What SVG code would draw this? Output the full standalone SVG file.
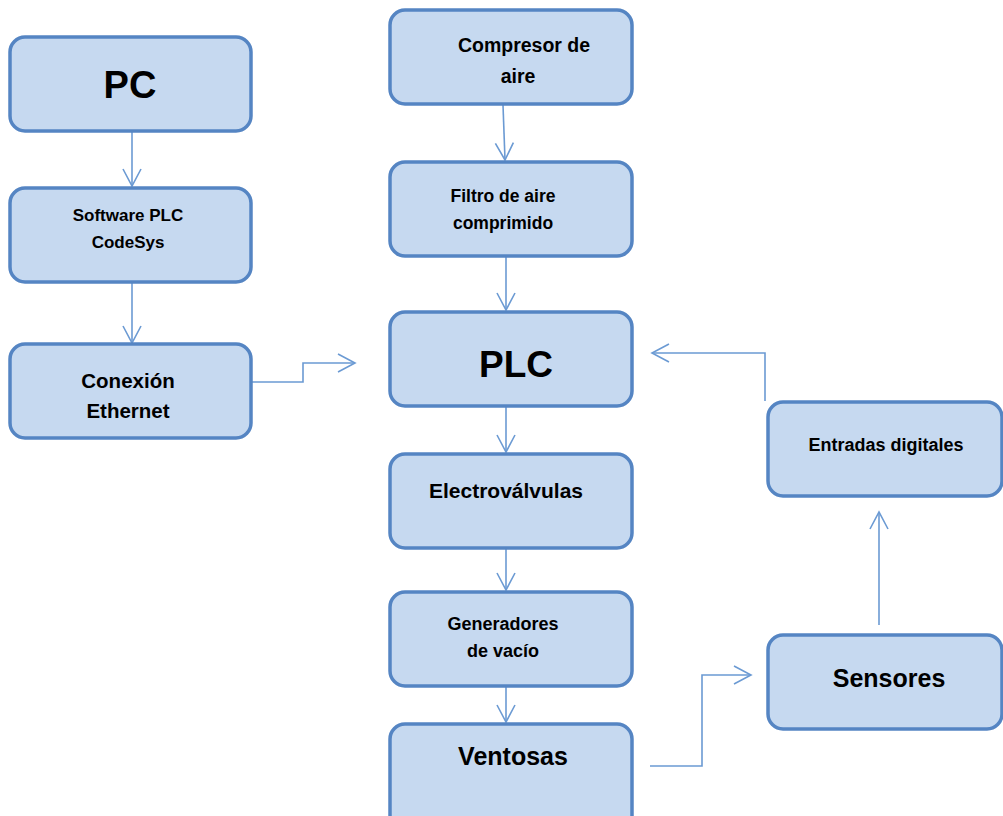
<svg xmlns="http://www.w3.org/2000/svg" width="1003" height="816" viewBox="0 0 1003 816">
<defs>
<style>
.box{fill:#c6d9f0;stroke:#5585c3;stroke-width:3.5}
.t{font-family:"Liberation Sans",Arial,sans-serif;font-weight:bold;fill:#000;text-anchor:middle}
.c{fill:none;stroke:#6b9ad3;stroke-width:1.6}
</style>
<marker id="ah" markerUnits="userSpaceOnUse" viewBox="-19 -11 21 22" refX="0" refY="0" markerWidth="21" markerHeight="22" orient="auto" overflow="visible">
<path d="M-17,-9 L0,0 L-17,9" fill="none" stroke="#6b9ad3" stroke-width="1.6"/>
</marker>
</defs>
<rect width="1003" height="816" fill="#fff"/>
<g id="connectors">
<path class="c" d="M132,132 V186" marker-end="url(#ah)"/>
<path class="c" d="M132,283 V343" marker-end="url(#ah)"/>
<path class="c" d="M252,382 H303 V363 H355" marker-end="url(#ah)"/>
<path class="c" d="M503,105 L505,160" marker-end="url(#ah)"/>
<path class="c" d="M506,257 V310" marker-end="url(#ah)"/>
<path class="c" d="M506,406 V452" marker-end="url(#ah)"/>
<path class="c" d="M506,548 V590" marker-end="url(#ah)"/>
<path class="c" d="M506,686 V722" marker-end="url(#ah)"/>
<path class="c" d="M650,766 H702 V675 H751" marker-end="url(#ah)"/>
<path class="c" d="M879,625 V512" marker-end="url(#ah)"/>
<path class="c" d="M765,401 V353 H652" marker-end="url(#ah)"/>
</g>
<g id="pc"><rect class="box" x="10" y="37" width="241" height="94" rx="15"/><text class="t" x="130" y="98" font-size="38">PC</text></g>
<g id="software"><rect class="box" x="10" y="188" width="241" height="94" rx="15"/><text class="t" x="128" y="221" font-size="17">Software PLC</text><text class="t" x="128" y="248" font-size="17">CodeSys</text></g>
<g id="conexion"><rect class="box" x="10" y="344" width="241" height="94" rx="15"/><text class="t" x="128" y="388" font-size="20.5">Conexión</text><text class="t" x="128" y="418" font-size="20.5">Ethernet</text></g>
<g id="compresor"><rect class="box" x="390" y="10" width="242" height="94" rx="15"/><text class="t" x="524" y="52" font-size="19.5">Compresor de</text><text class="t" x="518" y="83" font-size="19.5">aire</text></g>
<g id="filtro"><rect class="box" x="390" y="162" width="242" height="94" rx="15"/><text class="t" x="503" y="202" font-size="17.5">Filtro de aire</text><text class="t" x="503" y="229" font-size="17.5">comprimido</text></g>
<g id="plc"><rect class="box" x="390" y="312" width="242" height="94" rx="15"/><text class="t" x="516" y="377" font-size="37">PLC</text></g>
<g id="electrovalvulas"><rect class="box" x="390" y="454" width="242" height="94" rx="15"/><text class="t" x="506" y="498" font-size="21">Electroválvulas</text></g>
<g id="generadores"><rect class="box" x="390" y="592" width="242" height="94" rx="15"/><text class="t" x="503" y="630" font-size="18">Generadores</text><text class="t" x="503" y="657" font-size="18">de vacío</text></g>
<g id="ventosas"><rect class="box" x="390" y="724" width="242" height="110" rx="15"/><text class="t" x="513" y="765" font-size="25">Ventosas</text></g>
<g id="entradas"><rect class="box" x="768" y="402" width="234" height="94" rx="15"/><text class="t" x="886" y="451" font-size="18">Entradas digitales</text></g>
<g id="sensores"><rect class="box" x="768" y="635" width="234" height="94" rx="15"/><text class="t" x="889" y="687" font-size="25">Sensores</text></g>
</svg>
